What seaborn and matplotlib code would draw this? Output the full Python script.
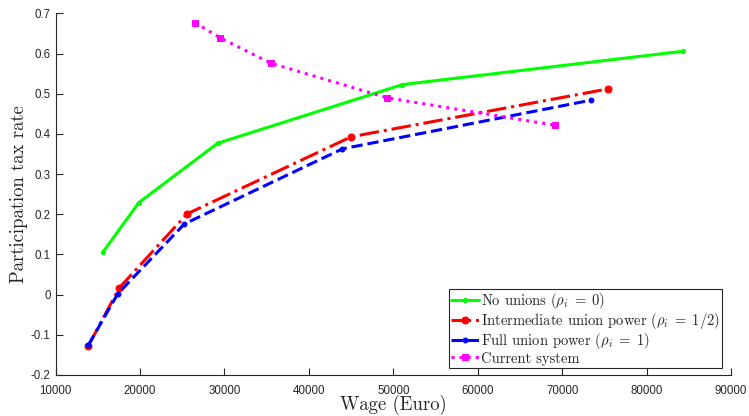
import matplotlib
matplotlib.use("Agg")
import matplotlib.pyplot as plt
import seaborn as sns
import pandas as pd

# values
wage_none = [15580, 19850, 29200, 51080, 84300]
rate_none = [0.105, 0.229, 0.377, 0.523, 0.606]
wage_mid = [13870, 17550, 25570, 45000, 75370]
rate_mid = [-0.128, 0.017, 0.201, 0.393, 0.512]
wage_full = [13870, 17360, 25250, 43970, 73360]
rate_full = [-0.126, 0.002, 0.176, 0.363, 0.484]
wage_cur = [26520, 29520, 35520, 49270, 69090]
rate_cur = [0.677, 0.639, 0.576, 0.490, 0.422]

labels = [r"No unions ($\rho_i\;=\;0$)",
          r"Intermediate union power ($\rho_i\;=\;1/2$)",
          r"Full union power ($\rho_i\;=\;1$)",
          "Current system"]

sns.set_style("ticks")
plt.rcParams["mathtext.fontset"] = "cm"
plt.rcParams["axes.formatter.use_mathtext"] = False

fig = plt.figure(figsize=(7.49, 4.16), dpi=100)
ax = fig.add_axes([0.0742, 0.0986, 0.902, 0.869])

styles = [
    (wage_none, rate_none, "#00ff00", "-", ".", 6),
    (wage_mid, rate_mid, "#ff0000", "-.", "o", 5),
    (wage_full, rate_full, "#0000ff", "--", ".", 7),
    (wage_cur, rate_cur, "#ff00ff", ":", "s", 4),
]
for (x, y, c, ls, mk, ms), lab in zip(styles, labels):
    df = pd.DataFrame({"wage": x, "rate": y})
    sns.lineplot(data=df, x="wage", y="rate", ax=ax, color=c, linestyle=ls,
                 marker=mk, markersize=ms, markeredgecolor=c, linewidth=2.2,
                 sort=False, label=lab)

ax.set_xlim(10000, 90000)
ax.set_ylim(-0.2, 0.7)
ax.set_xticks(range(10000, 90001, 10000))
ax.set_yticks([-0.2, -0.1, 0, 0.1, 0.2, 0.3, 0.4, 0.5, 0.6, 0.7])
ax.set_yticklabels(["-0.2", "-0.1", "0", "0.1", "0.2", "0.3", "0.4", "0.5", "0.6", "0.7"])
ax.set_xticklabels([str(v) for v in range(10000, 90001, 10000)])
for t in ax.get_xticklabels() + ax.get_yticklabels():
    t.set_fontfamily("Liberation Sans")
    t.set_fontsize(8.3)
    t.set_color("#262626")
ax.tick_params(direction="in", length=5, width=0.8, color="#262626")
ax.tick_params(axis="x", pad=7)

ax.spines["top"].set_visible(False)
ax.spines["right"].set_visible(False)
for s in ["left", "bottom"]:
    ax.spines[s].set_color("#262626")
    ax.spines[s].set_linewidth(0.8)

ax.set_xlabel("Wage (Euro)", fontfamily="cmr10", fontsize=13.5, labelpad=-1)
ax.set_ylabel("Participation tax rate", fontfamily="cmr10", fontsize=13.5, labelpad=2)

leg = ax.legend(loc="lower right", bbox_to_anchor=(0.986, 0.02),
                prop={"family": "cmr10", "size": 10.5}, handlelength=1.9,
                handletextpad=0.1, borderpad=0.15, labelspacing=0.02,
                borderaxespad=0, fancybox=False, framealpha=1)
leg.get_frame().set_edgecolor("#262626")
leg.get_frame().set_linewidth(0.8)

fig.savefig("out.png", dpi=100)
